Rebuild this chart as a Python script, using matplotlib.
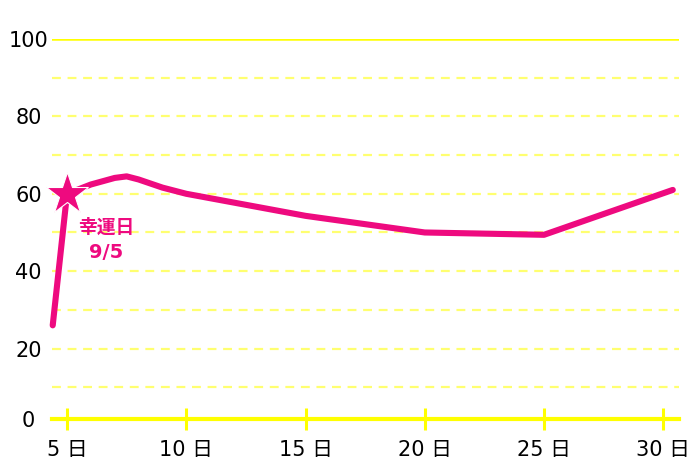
import numpy as np
import matplotlib.pyplot as plt

plt.rcParams['font.family'] = ['DejaVu Sans', 'Noto Sans CJK JP']

days = [4.4, 5, 6, 7, 7.5, 8, 9, 10, 15, 20, 25, 30.4]
vals = [26, 60, 62.4, 64.1, 64.5, 63.7, 61.6, 60, 54.3, 50, 49.4, 61]
lucky_day = 5
lucky_val = 60
xticks = [5, 10, 15, 20, 25, 30]
xlabels = [f'{d} 日' for d in xticks]
yticks = [1.8, 20, 40, 60, 80, 100]
ylabels = ['0', '20', '40', '60', '80', '100']

pink = '#ee0a7f'
yellow = '#ffff00'
jp = ['Noto Sans CJK JP', 'DejaVu Sans']

fig = plt.figure(figsize=(7, 4.67), dpi=100)
ax = fig.add_axes([52/700, (467-419)/467, (679-52)/700, (419-39)/467])
ax.set_xlim(4.37, 30.66)
ax.set_ylim(1.8, 100)

for v in range(10, 100, 10):
    ax.axhline(v, color='#ffff70', lw=1.6, ls=(0, (4, 3)), zorder=1)
ax.axhline(100, color=yellow, lw=1.8, zorder=1)

for s in ['top', 'right', 'left']:
    ax.spines[s].set_visible(False)
ax.spines['bottom'].set_color(yellow)
ax.spines['bottom'].set_linewidth(3)

ax.plot(days, vals, color=pink, lw=4.4, solid_capstyle='round',
        solid_joinstyle='round', zorder=3, clip_on=False)
ax.plot([lucky_day], [lucky_val], marker='*', ms=32, color=pink,
        mec='white', mew=0.8, zorder=4, clip_on=False)
ax.annotate('幸運日', xy=(lucky_day, lucky_val), xytext=(28, -24),
            textcoords='offset points', ha='center', va='center',
            color=pink, fontsize=13.5, fontweight='bold', family=jp)
ax.annotate('9/5', xy=(lucky_day, lucky_val), xytext=(28, -42),
            textcoords='offset points', ha='center', va='center',
            color=pink, fontsize=14, fontweight='bold')

ax.set_xticks(xticks)
ax.set_xticklabels(xlabels, fontsize=15)
ax.tick_params(axis='x', direction='inout', length=16.5, width=2.2,
               color=yellow, pad=7)
ax.set_yticks(yticks)
ax.set_yticklabels(ylabels, fontsize=15)
ax.tick_params(axis='y', length=0, pad=17)
for lab in ax.get_yticklabels():
    lab.set_horizontalalignment('center')

fig.savefig('out.png', dpi=100)
